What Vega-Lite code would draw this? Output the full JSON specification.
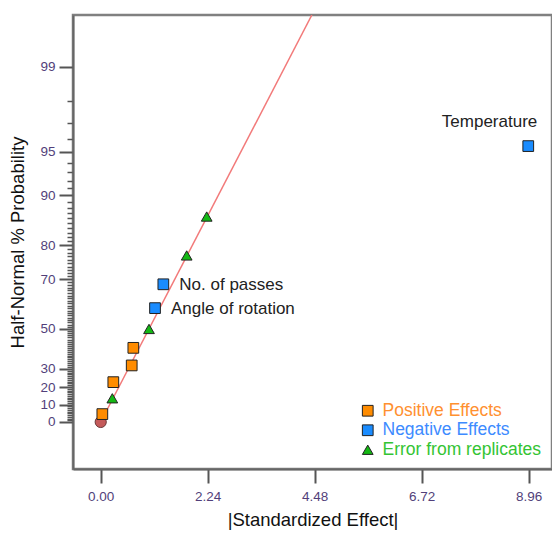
{
  "$schema": "https://vega.github.io/schema/vega-lite/v6.json",
  "width": 479,
  "height": 454,
  "autosize": "none",
  "padding": {"left": 73, "top": 15, "right": 0, "bottom": 65},
  "background": "white",
  "config": {
    "view": {"stroke": "#808080", "strokeWidth": 2.5},
    "font": "Liberation Sans",
    "axis": {"grid": false, "domainColor": "#666666", "domainWidth": 2,
      "labelFontSize": 13.5, "labelColor": "#523f7a", "labelOverlap": false, "labelFlush": false,
      "titleFontSize": 18.5, "titleFontWeight": "normal", "titleColor": "#111111", "titlePadding": 8}
  },
  "datasets": {
    "effects": [
      {"type": "Positive Effects", "effect": 0.034, "z": 0.0570, "label": ""},
      {"type": "Error from replicates", "effect": 0.243, "z": 0.1718, "label": ""},
      {"type": "Positive Effects", "effect": 0.264, "z": 0.2888, "label": ""},
      {"type": "Positive Effects", "effect": 0.649, "z": 0.4100, "label": ""},
      {"type": "Positive Effects", "effect": 0.683, "z": 0.5375, "label": ""},
      {"type": "Error from replicates", "effect": 1.011, "z": 0.6745, "label": ""},
      {"type": "Negative Effects", "effect": 1.137, "z": 0.8255, "label": "Angle of rotation"},
      {"type": "Negative Effects", "effect": 1.311, "z": 0.9983, "label": "No. of passes"},
      {"type": "Error from replicates", "effect": 1.800, "z": 1.2075, "label": ""},
      {"type": "Error from replicates", "effect": 2.219, "z": 1.4897, "label": ""},
      {"type": "Negative Effects", "effect": 8.95, "z": 2.0004, "label": "Temperature"}
    ],
    "origin": [{"effect": 0, "z": 0}],
    "fit": [{"effect": 0, "z": 0}, {"effect": 4.42, "z": 2.951}]
  },
  "layer": [
    {
      "data": {"name": "fit"},
      "mark": {"type": "line", "color": "#f27a7a", "strokeWidth": 1.5, "clip": true},
      "encoding": {
        "x": {"field": "effect", "type": "quantitative", "scale": {"domain": [-0.58, 9.447], "nice": false, "zero": false},
          "axis": {"values": [0, 2.24, 4.48, 6.72, 8.96], "tickCount": 500, "format": ".2f", "ticks": true,
            "tickSize": {"condition": {"test": "datum.value >= 0", "value": 14}, "value": 14},
            "tickWidth": {"condition": {"test": "datum.value >= 0", "value": 2}, "value": 2},
            "tickColor": "#555555", "labelPadding": 6, "title": "|Standardized Effect|"}},
        "y": {"field": "z", "type": "quantitative", "scale": {"domain": [-0.341, 2.951], "nice": false, "zero": false},
          "axis": {"values": [0, 0.0125, 0.0251, 0.0376, 0.0502, 0.0627, 0.0753, 0.0878, 0.1004, 0.1130, 0.1257, 0.1383, 0.1510, 0.1637, 0.1764, 0.1891, 0.2019, 0.2147, 0.2275, 0.2404, 0.2533, 0.2663, 0.2793, 0.2924, 0.3055, 0.3186, 0.3319, 0.3451, 0.3585, 0.3719, 0.3853, 0.3989, 0.4125, 0.4261, 0.4399, 0.4538, 0.4677, 0.4817, 0.4959, 0.5101, 0.5244, 0.5388, 0.5534, 0.5681, 0.5828, 0.5978, 0.6128, 0.6280, 0.6433, 0.6588, 0.6745, 0.6903, 0.7063, 0.7225, 0.7388, 0.7554, 0.7722, 0.7892, 0.8064, 0.8239, 0.8416, 0.8596, 0.8779, 0.8965, 0.9154, 0.9346, 0.9542, 0.9741, 0.9945, 1.0152, 1.0364, 1.0581, 1.0803, 1.1031, 1.1264, 1.1503, 1.1750, 1.2004, 1.2265, 1.2536, 1.2816, 1.3106, 1.3408, 1.3722, 1.4051, 1.4395, 1.4758, 1.5141, 1.5548, 1.5982, 1.6449, 1.6954, 1.7507, 1.8119, 1.8808, 1.9600, 2.0537, 2.1701, 2.3263, 2.5758],
            "tickCount": 500,
            "labelExpr": "indexof([0,10,20,30,50,70,80,90,95,99], round(200*cumulativeNormal(datum.value)-100)) >= 0 ? format(round(200*cumulativeNormal(datum.value)-100), 'd') : ''",
            "ticks": true,
            "tickSize": {"condition": {"test": "indexof([0,10,20,30,50,70,80,90,95,99], round(200*cumulativeNormal(datum.value)-100)) >= 0", "value": 14}, "value": 6},
            "tickWidth": {"condition": {"test": "indexof([0,10,20,30,50,70,80,90,95,99], round(200*cumulativeNormal(datum.value)-100)) >= 0", "value": 2}, "value": 1.5},
            "tickColor": "#555555",
            "labelPadding": 4, "labelBaseline": "middle", "title": "Half-Normal % Probability", "titlePadding": 12}}
      }
    },
    {
      "data": {"name": "origin"},
      "mark": {"type": "point", "shape": "circle", "filled": true, "size": 125, "fill": "#c45a5a", "stroke": "#6b3a3a", "strokeWidth": 1, "opacity": 1},
      "encoding": {
        "x": {"field": "effect", "type": "quantitative", "scale": {"domain": [-0.58, 9.447], "nice": false, "zero": false}},
        "y": {"field": "z", "type": "quantitative", "scale": {"domain": [-0.341, 2.951], "nice": false, "zero": false}}
      }
    },
    {
      "data": {"name": "effects"},
      "mark": {"type": "point", "filled": true, "stroke": "#222222", "strokeWidth": 1, "opacity": 1},
      "encoding": {
        "x": {"field": "effect", "type": "quantitative", "scale": {"domain": [-0.58, 9.447], "nice": false, "zero": false}},
        "y": {"field": "z", "type": "quantitative", "scale": {"domain": [-0.341, 2.951], "nice": false, "zero": false}},
        "size": {"field": "type", "type": "ordinal",
          "scale": {"domain": ["Positive Effects", "Negative Effects", "Error from replicates"], "range": [115, 115, 200]}, "legend": null},
        "color": {"field": "type", "type": "nominal",
          "scale": {"domain": ["Positive Effects", "Negative Effects", "Error from replicates"], "range": ["#ff8c00", "#1a8cff", "#14b814"]},
          "legend": {"orient": "bottom-right", "offset": 10, "padding": 0, "title": null, "labelFontSize": 17.5, "labelFont": "Liberation Sans",
            "labelColor": {"expr": "datum.label == 'Positive Effects' ? '#ff9030' : datum.label == 'Negative Effects' ? '#3d8bff' : '#33c433'"},
            "symbolSize": 100, "symbolStrokeColor": "#222222", "symbolStrokeWidth": 1, "rowPadding": 0.5, "labelOffset": 6}},
        "shape": {"field": "type", "type": "nominal",
          "scale": {"domain": ["Positive Effects", "Negative Effects", "Error from replicates"], "range": ["square", "square", "triangle-up"]},
          "legend": {"orient": "bottom-right", "offset": 10, "padding": 0, "title": null, "labelFontSize": 17.5, "labelFont": "Liberation Sans",
            "labelColor": {"expr": "datum.label == 'Positive Effects' ? '#ff9030' : datum.label == 'Negative Effects' ? '#3d8bff' : '#33c433'"},
            "symbolSize": 100, "symbolStrokeColor": "#222222", "symbolStrokeWidth": 1, "rowPadding": 0.5, "labelOffset": 6}}
      }
    },
    {
      "data": {"name": "effects"},
      "transform": [{"filter": "datum.label == 'Angle of rotation' || datum.label == 'No. of passes'"}],
      "mark": {"type": "text", "align": "left", "baseline": "middle", "dx": 16, "dy": 1, "fontSize": 17, "color": "#222222"},
      "encoding": {
        "x": {"field": "effect", "type": "quantitative", "scale": {"domain": [-0.58, 9.447], "nice": false, "zero": false}},
        "y": {"field": "z", "type": "quantitative", "scale": {"domain": [-0.341, 2.951], "nice": false, "zero": false}},
        "text": {"field": "label"}
      }
    },
    {
      "data": {"name": "effects"},
      "transform": [{"filter": "datum.label == 'Temperature'"}],
      "mark": {"type": "text", "align": "right", "baseline": "middle", "dx": 9, "dy": -24, "fontSize": 17, "color": "#222222"},
      "encoding": {
        "x": {"field": "effect", "type": "quantitative", "scale": {"domain": [-0.58, 9.447], "nice": false, "zero": false}},
        "y": {"field": "z", "type": "quantitative", "scale": {"domain": [-0.341, 2.951], "nice": false, "zero": false}},
        "text": {"field": "label"}
      }
    }
  ]
}
